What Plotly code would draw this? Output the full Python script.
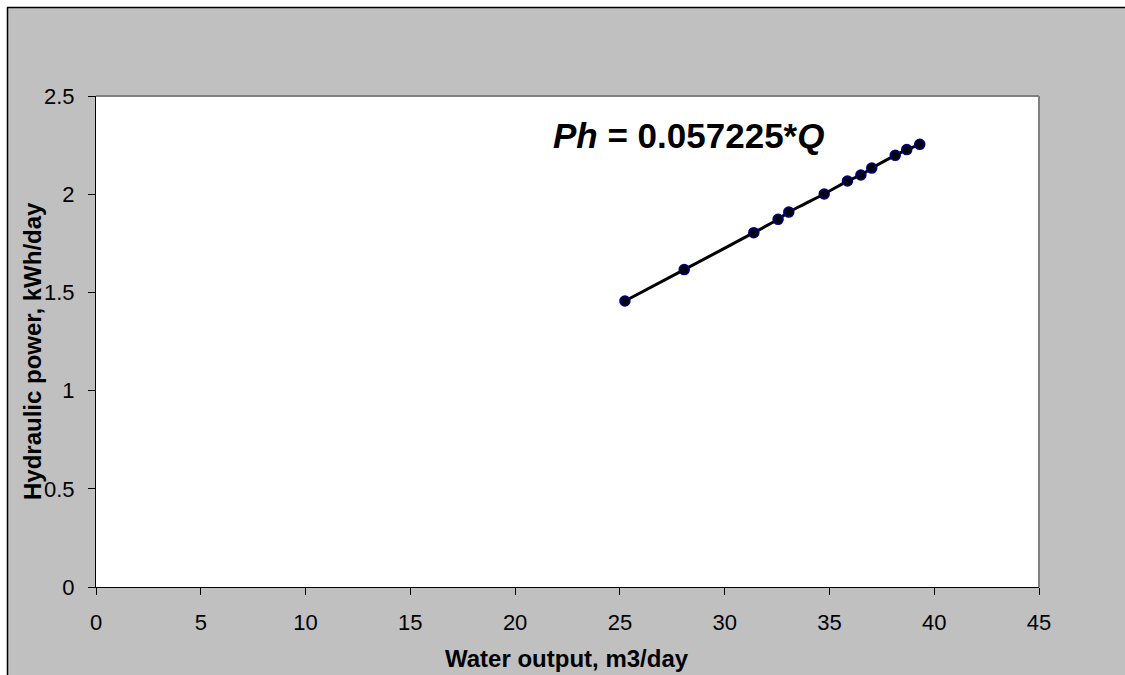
import plotly.graph_objects as go

# Data
water_output = [25.24, 28.07, 31.39, 32.55, 33.06, 34.75, 35.86, 36.50, 37.02, 38.14, 38.69, 39.31]
hydraulic_power = [1.456, 1.616, 1.804, 1.872, 1.909, 2.001, 2.067, 2.098, 2.133, 2.198, 2.227, 2.254]
x_ticks = [0, 5, 10, 15, 20, 25, 30, 35, 40, 45]
y_ticks = [0, 0.5, 1, 1.5, 2, 2.5]
y_tick_labels = ["0", "0.5", "1", "1.5", "2", "2.5"]
x_title = "Water output, m3/day"
y_title = "Hydraulic power, kWh/day"
equation_text = "<i>Ph</i> = 0.057225*<i>Q</i>"

W, H = 1125, 675
L, R, T, B = 96, 86, 96, 88
pw, ph = W - L - R, H - T - B

def px_x(p):
    return (p - L) / pw

def px_y(p):
    return 1 - (p - T) / ph

FONT = "Liberation Sans, Arial, sans-serif"

fig = go.Figure()
fig.add_trace(go.Scatter(
    x=water_output, y=hydraulic_power,
    mode="lines+markers",
    line=dict(color="black", width=3, shape="spline", smoothing=0.6),
    marker=dict(size=10, color="#000010", line=dict(color="#000080", width=1.5)),
    showlegend=False,
    hoverinfo="x+y",
))

fig.update_layout(
    width=W, height=H,
    margin=dict(l=L, r=R, t=T, b=B, autoexpand=False),
    paper_bgcolor="#c0c0c0",
    plot_bgcolor="white",
    font=dict(family=FONT, size=22, color="black"),
    xaxis=dict(
        range=[0, 45], tickvals=x_ticks, ticktext=[str(v) for v in x_ticks],
        showgrid=False, zeroline=False, automargin=False,
        showline=True, linecolor="black", linewidth=1,
        ticks="outside", ticklen=7, tickcolor="black", tickwidth=1,
        ticklabelstandoff=9,
        tickfont=dict(size=22, family=FONT),
    ),
    yaxis=dict(
        range=[0, 2.5], tickvals=y_ticks, ticktext=y_tick_labels,
        showgrid=False, zeroline=False, automargin=False,
        showline=True, linecolor="black", linewidth=1,
        ticks="outside", ticklen=7, tickcolor="black", tickwidth=1,
        ticklabelstandoff=9,
        tickfont=dict(size=22, family=FONT),
    ),
    shapes=[
        # gray top and right frame of plot area
        dict(type="line", xref="paper", yref="paper", x0=0, x1=1, y0=1, y1=1,
             line=dict(color="#808080", width=2)),
        dict(type="line", xref="paper", yref="paper", x0=1, x1=1, y0=0, y1=1,
             line=dict(color="#808080", width=2)),
        # white strips at top and left of the page, and outer black border
        dict(type="rect", xref="paper", yref="paper", x0=px_x(0), x1=px_x(W), y0=px_y(7), y1=px_y(0),
             fillcolor="white", line=dict(width=0)),
        dict(type="rect", xref="paper", yref="paper", x0=px_x(0), x1=px_x(7), y0=px_y(H), y1=px_y(0),
             fillcolor="white", line=dict(width=0)),
        dict(type="line", xref="paper", yref="paper", x0=px_x(7), x1=px_x(W), y0=px_y(7.5), y1=px_y(7.5),
             line=dict(color="black", width=1.5)),
        dict(type="line", xref="paper", yref="paper", x0=px_x(7.5), x1=px_x(7.5), y0=px_y(7), y1=px_y(H),
             line=dict(color="black", width=1.5)),
    ],
    annotations=[
        dict(x=28.27, y=2.30, xref="x", yref="y", text="<b>" + equation_text + "</b>",
             showarrow=False, xanchor="center", yanchor="middle",
             font=dict(family=FONT, size=35, color="black")),
        dict(x=px_x(567), y=px_y(658), xref="paper", yref="paper", text="<b>" + x_title + "</b>",
             showarrow=False, xanchor="center", yanchor="middle",
             font=dict(family=FONT, size=24, color="black")),
        dict(x=px_x(32), y=px_y(351), xref="paper", yref="paper", text="<b>" + y_title + "</b>",
             showarrow=False, xanchor="center", yanchor="middle", textangle=-90,
             font=dict(family=FONT, size=24, color="black")),
    ],
)

fig.write_html("out.html")
